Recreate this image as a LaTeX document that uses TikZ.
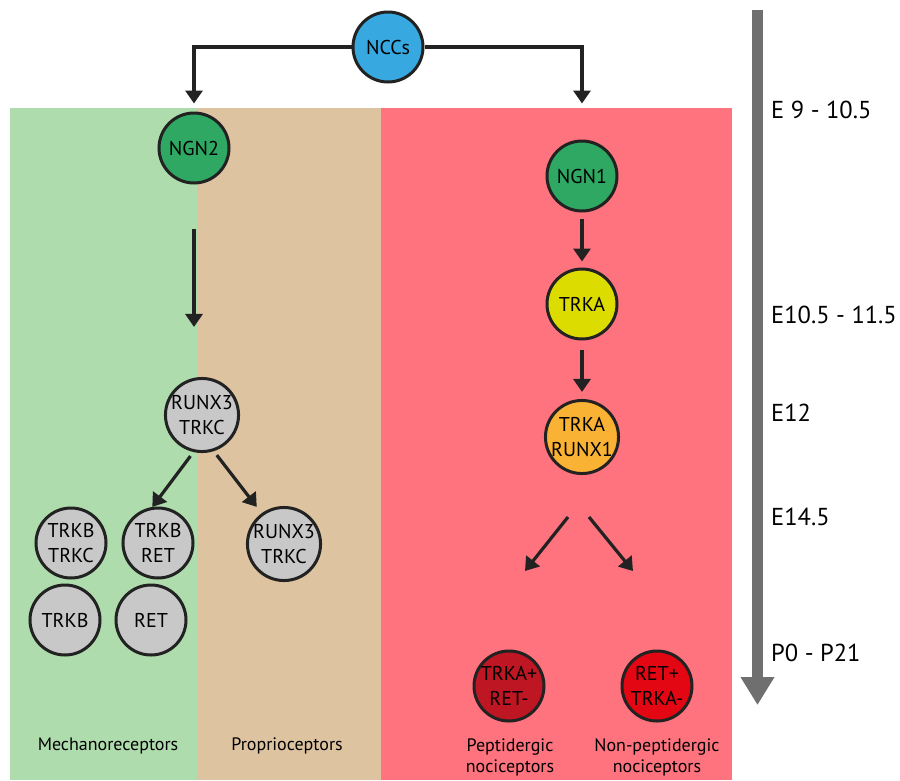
\documentclass[tikz,border=0pt]{standalone}
\usepackage{fontspec}
\setmainfont{PT Sans}
\usetikzlibrary{arrows.meta}
\definecolor{greenband}{HTML}{AEDCAC}
\definecolor{tanband}{HTML}{DEC3A1}
\definecolor{redband}{HTML}{FF737E}
\definecolor{nccblue}{HTML}{37A9E0}
\definecolor{ngngreen}{HTML}{2EA862}
\definecolor{cellgrey}{HTML}{C8C8C8}
\definecolor{trkayellow}{HTML}{DCDC00}
\definecolor{runxorange}{HTML}{F9B233}
\definecolor{peptred}{HTML}{BE1622}
\definecolor{nonpeptred}{HTML}{E30613}
\definecolor{ink}{HTML}{222222}
\definecolor{timegrey}{HTML}{6F6F6F}
\tikzset{
  cell/.style={circle, draw=ink, line width=3pt, minimum size=70pt, inner sep=0pt,
    align=center, text=black, font=\fontsize{20}{25}\selectfont},
  arr/.style={draw=ink, line width=3.2pt, -{Triangle[width=17pt,length=13pt]}},
  timeline/.style={draw=timegrey, line width=11pt, -{Triangle[width=32pt,length=28pt]}},
  timelabel/.style={anchor=base west, text=black, font=\fontsize{24.5}{28}\selectfont, inner sep=0pt},
  bandlabel/.style={align=center, text=black, font=\fontsize{18}{21}\selectfont, inner sep=0pt}
}
\begin{document}
\begin{tikzpicture}[x=1pt,y=-1pt]
\useasboundingbox (0,0) rectangle (900,780);
% bands
\fill[greenband] (10,108) rectangle (197,780);
\fill[tanband] (197,108) rectangle (381,780);
\fill[redband] (381,108) rectangle (732,780);

% timeline
\coordinate (t0) at (757.5,10);
\coordinate (t1) at (757.5,705);
\draw[timeline] (t0) -- (t1);
\node[timelabel] (l1) at (771,118) {E 9 - 10.5};
\node[timelabel] (l2) at (771,323) {E10.5 - 11.5};
\node[timelabel] (l3) at (771,421) {E12};
\node[timelabel] (l4) at (771,525) {E14.5};
\node[timelabel] (l5) at (771,661) {P0 - P21};

% nodes
\node[cell, fill=nccblue] (ncc) at (388,47) {NCCs};
\node[cell, fill=ngngreen] (ngn2) at (194,148) {NGN2};
\node[cell, fill=ngngreen] (ngn1) at (582,176) {NGN1};
\node[cell, fill=cellgrey] (runx3) at (202,415) {RUNX3\\TRKC};
\node[cell, fill=cellgrey] (trkbtrkc) at (71,543) {TRKB\\TRKC};
\node[cell, fill=cellgrey] (trkbret) at (158,543) {TRKB\\RET};
\node[cell, fill=cellgrey] (runx3b) at (284,544) {RUNX3\\TRKC};
\node[cell, fill=cellgrey] (trkb) at (65,620) {TRKB};
\node[cell, fill=cellgrey] (ret) at (151,620) {RET};
\node[cell, fill=trkayellow] (trka) at (582,304) {TRKA};
\node[cell, fill=runxorange] (trkarunx) at (582,437) {TRKA\\RUNX1};
\node[cell, fill=peptred] (pept) at (509,686) {TRKA+\\RET-};
\node[cell, fill=nonpeptred] (nonpept) at (657,686) {RET+\\TRKA-};

% connectors
\draw[arr, shorten >=8pt] (ncc.west) -| (ngn2.north);
\draw[arr, shorten >=36pt] (ncc.east) -| (ngn1.north);
\draw[arr, shorten <=44pt, shorten >=50pt] (ngn2.south) -- (ngn2.south |- runx3.north);
\draw[arr, shorten <=5pt] (runx3.257) -- (trkbret.99);
\draw[arr, shorten <=5pt, shorten >=8pt] (runx3.288) -- (runx3b.126);
\draw[arr, shorten <=6pt, shorten >=6pt] (ngn1) -- (trka);
\draw[arr, shorten <=9pt, shorten >=7pt] (trka) -- (trkarunx);
\coordinate (b1s) at (568,517);
\coordinate (b1e) at (525,571);
\coordinate (b2s) at (589,517);
\coordinate (b2e) at (633,571);
\draw[arr] (b1s) -- (b1e);
\draw[arr] (b2s) -- (b2e);

% band labels
\node[bandlabel] (mech) at (108,746) {Mechanoreceptors};
\node[bandlabel] (prop) at (287,746) {Proprioceptors};
\node[bandlabel] (peptl) at (510,757) {Peptidergic\\nociceptors};
\node[bandlabel] (nonpeptl) at (657,757) {Non-peptidergic\\nociceptors};
\end{tikzpicture}
\end{document}
